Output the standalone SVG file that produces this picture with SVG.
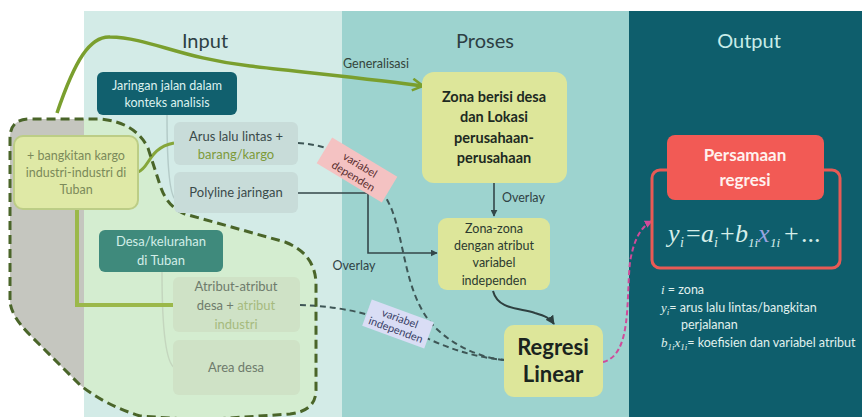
<svg xmlns="http://www.w3.org/2000/svg" width="862" height="417" viewBox="0 0 862 417">
  <style>
    text { font-family: Lato, "Open Sans", "Liberation Sans", sans-serif; }
    .title { font-size: 20px; text-anchor: middle; }
    .lbl { font-size: 12.5px; text-anchor: middle; }
    .dash { fill: none; stroke: #3e5656; stroke-width: 2; stroke-dasharray: 6 4; }
    .solid { fill: none; stroke: #34474a; stroke-width: 1.6; }
    .math { font-family: "Liberation Serif", "DejaVu Serif", serif; font-style: italic; }
  </style>
  <defs>
    <marker id="arrDark" viewBox="0 0 10 10" refX="9" refY="5" markerWidth="7" markerHeight="7" markerUnits="userSpaceOnUse" orient="auto">
      <path d="M0,0 L10,5 L0,10 Z" fill="#34474a"/>
    </marker>
    <marker id="arrDark2" viewBox="0 0 10 10" refX="9" refY="5" markerWidth="9" markerHeight="9" markerUnits="userSpaceOnUse" orient="auto">
      <path d="M0,0 L10,5 L0,10 Z" fill="#2e4040"/>
    </marker>
    <marker id="arrGreen" viewBox="0 0 12 12" refX="10" refY="6" markerWidth="14" markerHeight="14" markerUnits="userSpaceOnUse" orient="auto">
      <path d="M1,1 L10,6 L1,11" fill="none" stroke="#7a9f2e" stroke-width="2.2"/>
    </marker>
    <marker id="arrPink" viewBox="0 0 10 10" refX="9" refY="5" markerWidth="8" markerHeight="8" markerUnits="userSpaceOnUse" orient="auto">
      <path d="M0,0 L10,5 L0,10 Z" fill="#d04a9a"/>
    </marker>
    <clipPath id="leftSide"><rect x="0" y="0" width="84" height="417"/></clipPath>
    <clipPath id="inputSide"><rect x="84" y="0" width="258" height="417"/></clipPath>
    <path id="blob" d="M10,300 L10,138 Q10,119 30,119 L100,119 Q135,122 148,148 L160,185 Q167,207 185,214 L285,242 Q316,254 316,285 L316,390 Q316,411 290,414 L200,420 L140,416 Q105,405 80,385 L30,335 Q10,315 10,300 Z"/>
  </defs>

  <!-- background panels -->
  <rect x="0" y="0" width="862" height="417" fill="#ffffff"/>
  <rect x="84" y="11" width="258" height="406" fill="#d3ebe7"/>
  <rect x="342" y="11" width="287" height="406" fill="#9dd3cf"/>
  <rect x="629" y="11" width="233" height="406" fill="#0e5e6c"/>

  <text class="title" x="205" y="48" fill="#2d3f44">Input</text>
  <text class="title" x="485" y="48" fill="#2d3f44">Proses</text>
  <text class="title" x="749" y="48" fill="#c8ece8">Output</text>

  <!-- grouping area for village data -->
  <g id="group-area">
    <use href="#blob" fill="#c5c6bf" clip-path="url(#leftSide)"/>
    <use href="#blob" fill="#d4edd0" clip-path="url(#inputSide)"/>
  </g>

  <!-- tree lines -->
  <path d="M167,115 Q167,195 176,200" fill="none" stroke="#b4cbc8" stroke-width="1.5"/>
  <path d="M162,272 Q162,362 175,368" fill="none" stroke="#c4d6be" stroke-width="1.5"/>

  <g id="connectors">
    <!-- Generalisasi -->
    <path d="M57,113 C75,60 90,36 110,37 C150,38 180,58 250,66 C320,74 380,80 423,86" fill="none" stroke="#7a9f2e" stroke-width="3.5" marker-end="url(#arrGreen)"/>
    <text x="376" y="68" style="font-size:12.5px;text-anchor:middle" fill="#34443a">Generalisasi</text>
    <!-- bangkitan to arus -->
    <path d="M138,172 C150,168 148,148 174,143" fill="none" stroke="#86a63a" stroke-width="3"/>
    <!-- bangkitan to atribut -->
    <path d="M77,210 L77,305 L173,305" fill="none" stroke="#9bb84a" stroke-width="4"/>
    <!-- dependent variable dashed -->
    <path class="dash" d="M298,143 C340,145 375,170 392,210 C405,245 405,290 430,322 C450,345 480,358 505,360"/>
    <!-- independent variable dashed -->
    <path class="dash" d="M300,305 C330,306 360,310 400,325 C430,340 460,356 505,360"/>
    <!-- Polyline to overlay -->
    <path class="solid" d="M298,193 L368,193 L368,253 L437,253" marker-end="url(#arrDark)"/>
    <text x="354" y="270" style="font-size:12.5px;text-anchor:middle" fill="#2f4244">Overlay</text>
    <!-- Zona to zona-zona -->
    <path class="solid" d="M494,183 L494,216" marker-end="url(#arrDark)"/>
    <text x="502" y="202" style="font-size:12.5px" fill="#2f4244">Overlay</text>
    <!-- zona-zona to regresi -->
    <path d="M493,291 C498,310 520,308 535,313 C545,316 550,318 554,324" fill="none" stroke="#2e4040" stroke-width="2" marker-end="url(#arrDark2)"/>
    <!-- regresi to output -->
    <path d="M603,362 C632,355 626,300 630,262 C634,238 642,226 652,221" fill="none" stroke="#d04a9a" stroke-width="2" stroke-dasharray="5 3" marker-end="url(#arrPink)"/>
  </g>

  <!-- dashed outline of the group area -->
  <use href="#blob" fill="none" stroke="#4a6529" stroke-width="3" stroke-dasharray="9 5"/>

  <!-- labels on dashed connectors -->
  <g id="label-dependen" transform="translate(357,170) rotate(31)">
    <rect x="-38" y="-15" width="76" height="30" fill="#f4c2c2"/>
    <text x="0" y="-2" style="font-size:11px;text-anchor:middle" fill="#5a2f30">variabel</text>
    <text x="0" y="11" style="font-size:11px;text-anchor:middle" fill="#5a2f30">dependen</text>
  </g>
  <g id="label-independen" transform="translate(398,324) rotate(20)">
    <rect x="-33" y="-14" width="66" height="28" fill="#d9ddf5"/>
    <text x="0" y="-2" style="font-size:11px;text-anchor:middle" fill="#373d66">variabel</text>
    <text x="0" y="10" style="font-size:11px;text-anchor:middle" fill="#373d66">independen</text>
  </g>

  <!-- Input nodes -->
  <g id="node-bangkitan">
    <rect x="14" y="136" width="124" height="73" rx="9" fill="#dfe9a6" stroke="#bccd86" stroke-width="2"/>
    <text class="lbl" x="76" y="160" fill="#7b8a5a">+ bangkitan kargo</text>
    <text class="lbl" x="76" y="177" fill="#7b8a5a">industri-industri di</text>
    <text class="lbl" x="76" y="194" fill="#7b8a5a">Tuban</text>
  </g>
  <g id="node-jaringan">
    <rect x="97" y="72" width="140" height="43" rx="6" fill="#11606e"/>
    <text class="lbl" x="167" y="90" fill="#dcf1ef">Jaringan jalan dalam</text>
    <text class="lbl" x="167" y="107" fill="#dcf1ef">konteks analisis</text>
  </g>
  <g id="node-arus">
    <rect x="174" y="122" width="124" height="43" rx="6" fill="#c8dcd9"/>
    <text x="236" y="141" style="font-size:13px;text-anchor:middle" fill="#3a4a4a">Arus lalu lintas +</text>
    <text x="236" y="159" style="font-size:13px;text-anchor:middle" fill="#7d9a3a">barang/kargo</text>
  </g>
  <g id="node-polyline">
    <rect x="174" y="172" width="124" height="41" rx="6" fill="#c8dcd9"/>
    <text x="236" y="197" style="font-size:13px;text-anchor:middle" fill="#3a4a4a">Polyline jaringan</text>
  </g>
  <g id="node-desa">
    <rect x="99" y="230" width="124" height="42" rx="6" fill="#3f8a7c"/>
    <text x="161" y="246" style="font-size:13px;text-anchor:middle" fill="#d3eee8">Desa/kelurahan</text>
    <text x="161" y="265" style="font-size:13px;text-anchor:middle" fill="#d3eee8">di Tuban</text>
  </g>
  <g id="node-atribut">
    <rect x="173" y="277" width="127" height="55" rx="6" fill="#cfe2c6"/>
    <text x="236" y="291" style="font-size:13px;text-anchor:middle" fill="#6e7b6c">Atribut-atribut</text>
    <text x="236" y="310" style="font-size:13px;text-anchor:middle" fill="#6e7b6c">desa + <tspan fill="#a6ba7e">atribut</tspan></text>
    <text x="236" y="329" style="font-size:13px;text-anchor:middle" fill="#a6ba7e">industri</text>
  </g>
  <g id="node-area">
    <rect x="173" y="340" width="127" height="55" rx="6" fill="#cfe2c6"/>
    <text x="236" y="372" style="font-size:13px;text-anchor:middle" fill="#6e7b6c">Area desa</text>
  </g>

  <!-- Proses nodes -->
  <g id="node-zona">
    <rect x="422" y="72" width="145" height="111" rx="12" fill="#dde69a"/>
    <text x="494" y="102" style="font-size:14.5px;font-weight:bold;text-anchor:middle" fill="#1d2a22">Zona berisi desa</text>
    <text x="494" y="122" style="font-size:14.5px;font-weight:bold;text-anchor:middle" fill="#1d2a22">dan Lokasi</text>
    <text x="494" y="143" style="font-size:14.5px;font-weight:bold;text-anchor:middle" fill="#1d2a22">perusahaan-</text>
    <text x="494" y="163" style="font-size:14.5px;font-weight:bold;text-anchor:middle" fill="#1d2a22">perusahaan</text>
  </g>
  <g id="node-zonazona">
    <rect x="438" y="218" width="112" height="72" rx="9" fill="#dde69a"/>
    <text x="494" y="233" style="font-size:12.5px;text-anchor:middle" fill="#2c3a30">Zona-zona</text>
    <text x="494" y="250" style="font-size:12.5px;text-anchor:middle" fill="#2c3a30">dengan atribut</text>
    <text x="494" y="267" style="font-size:12.5px;text-anchor:middle" fill="#2c3a30">variabel</text>
    <text x="494" y="285" style="font-size:12.5px;text-anchor:middle" fill="#2c3a30">independen</text>
  </g>
  <g id="node-regresi">
    <rect x="504" y="325" width="99" height="72" rx="10" fill="#dde69a"/>
    <text x="553" y="355" style="font-size:22px;font-weight:bold;text-anchor:middle" fill="#1a241e">Regresi</text>
    <text x="553" y="382" style="font-size:22px;font-weight:bold;text-anchor:middle" fill="#1a241e">Linear</text>
  </g>

  <!-- Output -->
  <g id="node-persamaan">
    <rect x="652" y="170" width="188" height="98" rx="8" fill="none" stroke="#e85a55" stroke-width="3"/>
    <rect x="667" y="135" width="157" height="65" rx="8" fill="#f25a55"/>
    <text x="745" y="161" style="font-size:17px;font-weight:bold;text-anchor:middle" fill="#fff1ee">Persamaan</text>
    <text x="745" y="186" style="font-size:17px;font-weight:bold;text-anchor:middle" fill="#fff1ee">regresi</text>
    <text y="242" class="math" style="font-size:26px" fill="#d6eee9"><tspan x="668">y</tspan><tspan x="680" dy="5" style="font-size:14px">i</tspan><tspan x="686" dy="-5" style="font-style:normal">=</tspan><tspan x="701">a</tspan><tspan x="714" dy="5" style="font-size:14px">i</tspan><tspan x="720" dy="-5" style="font-style:normal">+</tspan><tspan x="735">b</tspan><tspan x="748" dy="5" style="font-size:13px">1i</tspan><tspan x="758" dy="-5" fill="#9aa3e0">x</tspan><tspan x="770" dy="5" style="font-size:13px">1i</tspan><tspan x="784" dy="-5" style="font-style:normal">+</tspan><tspan x="801" style="font-style:normal">...</tspan></text>
  </g>
  <g id="legend" fill="#e0f1ee" style="font-size:12.5px">
    <text x="661" y="294"><tspan class="math" style="font-size:13px">i</tspan> = zona</text>
    <text x="661" y="312"><tspan class="math" style="font-size:13px">y</tspan><tspan class="math" style="font-size:9px" dy="3">i</tspan><tspan dy="-3">= arus lalu lintas/bangkitan</tspan></text>
    <text x="681" y="329">perjalanan</text>
    <text x="661" y="347"><tspan class="math" style="font-size:13px">b</tspan><tspan class="math" style="font-size:9px" dy="3">1i</tspan><tspan class="math" style="font-size:13px" dy="-3">x</tspan><tspan class="math" style="font-size:9px" dy="3">1i</tspan><tspan dy="-3">= koefisien dan variabel atribut</tspan></text>
  </g>
</svg>
